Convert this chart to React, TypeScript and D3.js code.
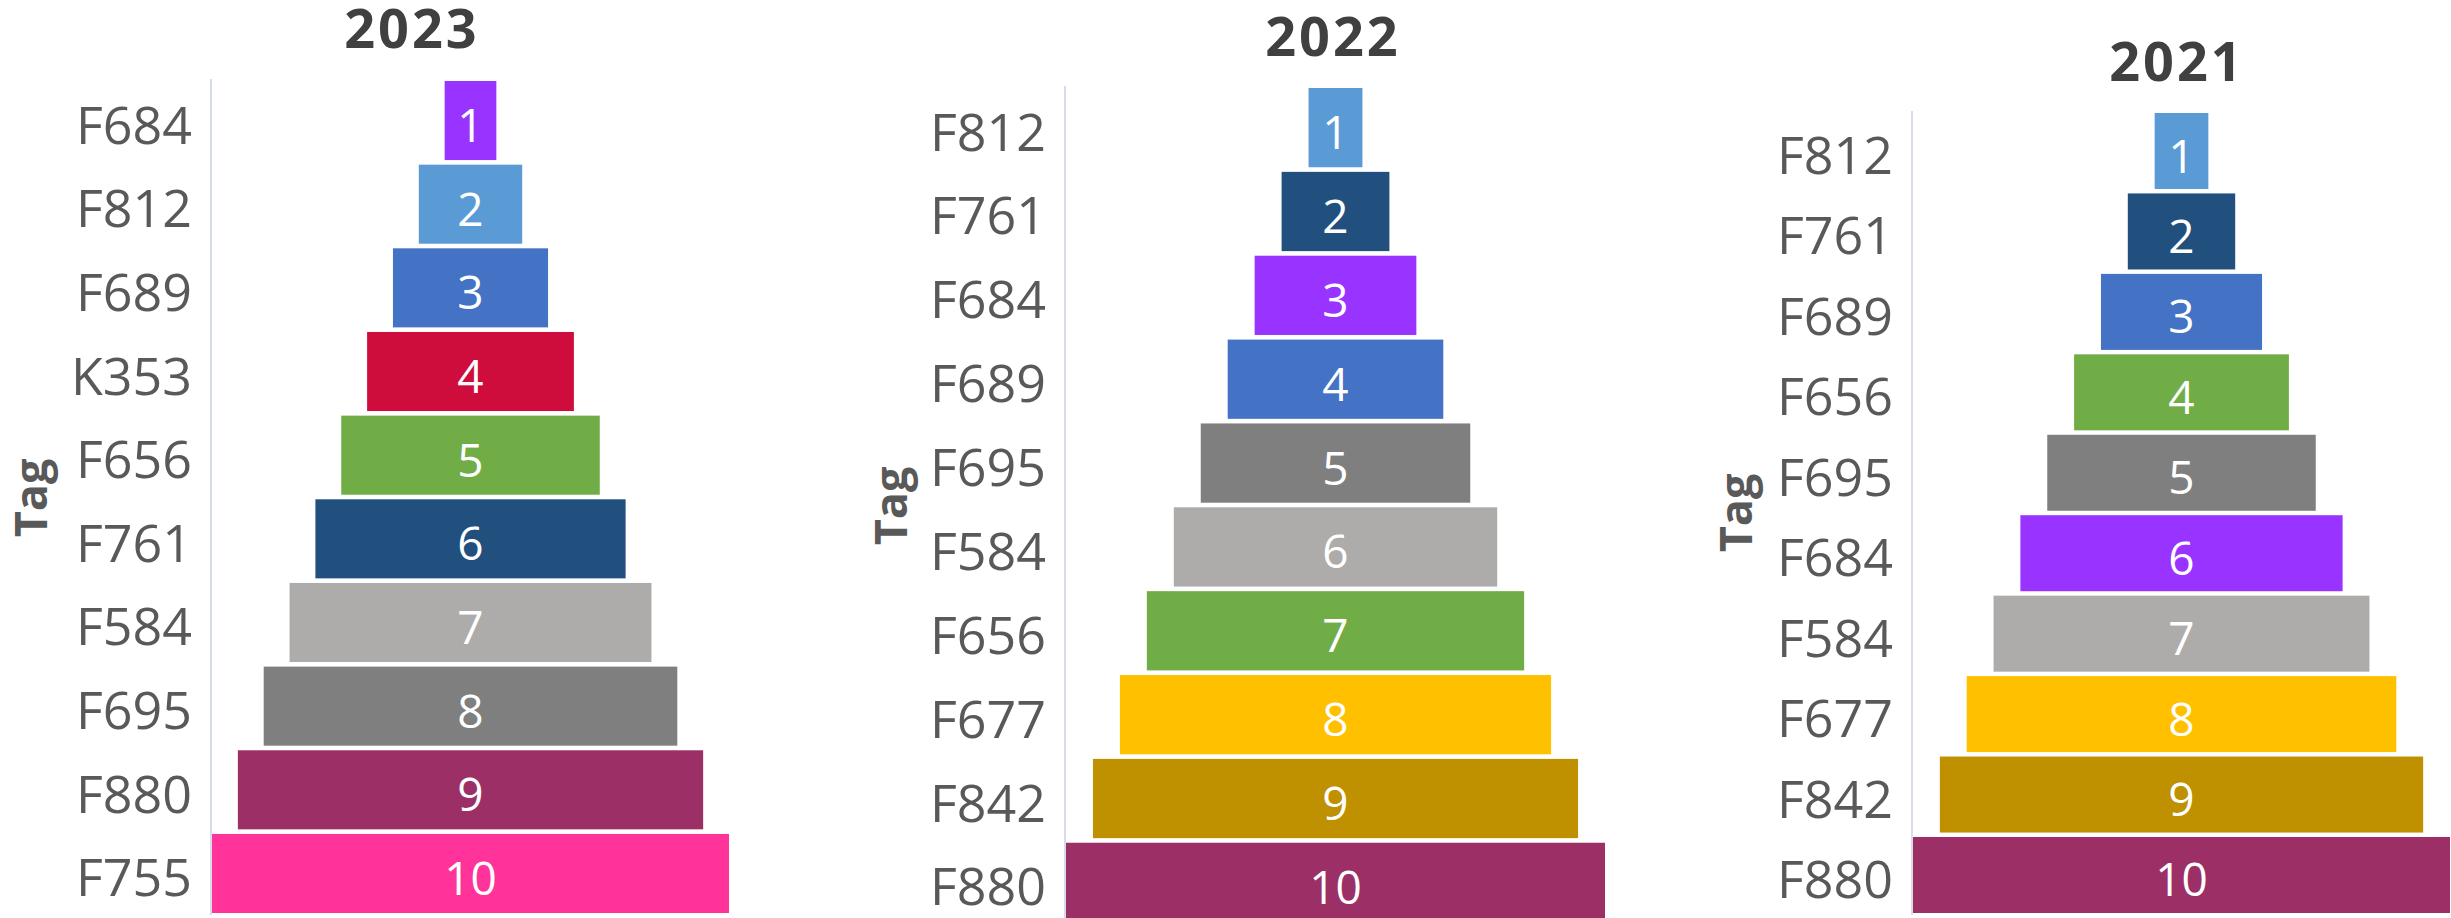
import React from 'react';
import * as d3 from 'd3';

// data, top to bottom per year
const years = ['2023', '2022', '2021'];
const tags2023 = ['F684', 'F812', 'F689', 'K353', 'F656', 'F761', 'F584', 'F695', 'F880', 'F755'];
const tags2022 = ['F812', 'F761', 'F684', 'F689', 'F695', 'F584', 'F656', 'F677', 'F842', 'F880'];
const tags2021 = ['F812', 'F761', 'F689', 'F656', 'F695', 'F684', 'F584', 'F677', 'F842', 'F880'];
const ranks2023 = [1, 2, 3, 4, 5, 6, 7, 8, 9, 10];
const ranks2022 = [1, 2, 3, 4, 5, 6, 7, 8, 9, 10];
const ranks2021 = [1, 2, 3, 4, 5, 6, 7, 8, 9, 10];

const tagColors: Record<string, string> = {
  F684: '#9933ff',
  F812: '#5b9bd5',
  F689: '#4472c4',
  K353: '#cf0d3d',
  F656: '#70ad47',
  F761: '#214f7e',
  F584: '#aeabab',
  F695: '#7f7f7f',
  F880: '#9c2f66',
  F755: '#ff3399',
  F677: '#ffc000',
  F842: '#bf9000',
};

interface Row { tag: string; value: number }

// where each small funnel sits on the page
const layouts = [
  { axisX: 211, axisTop: 79, axisBottom: 915, barTop: 81, barBottom: 913, maxW: 517, titleX: 412, titleY: 48, tagX: 47, tagY: 498 },
  { axisX: 1065, axisTop: 86, axisBottom: 918, barTop: 88, barBottom: 922, maxW: 539, titleX: 1333, titleY: 56, tagX: 907, tagY: 506 },
  { axisX: 1912, axisTop: 111, axisBottom: 915, barTop: 113, barBottom: 913, maxW: 537, titleX: 2177, titleY: 81, tagX: 1752, tagY: 513 },
];

const textColor = '#595959';
const font = '"Open Sans", "Noto Sans", sans-serif';

const Funnel: React.FC<{ title: string; rows: Row[]; layout: typeof layouts[0] }> = ({ title, rows, layout }) => {
  const y = d3.scaleBand()
    .domain(rows.map((d) => d.tag))
    .range([layout.barTop, layout.barBottom])
    .paddingInner(0.055)
    .paddingOuter(0);

  const w = d3.scaleLinear()
    .domain([0, d3.max(rows, (d) => d.value) || 0])
    .range([0, layout.maxW]);

  const cx = layout.axisX + 1 + layout.maxW / 2;

  return (
    <g>
      <text x={layout.titleX} y={layout.titleY} textAnchor="middle" fontFamily={font}
        fontWeight={700} fontSize={54} letterSpacing={3} fill="#404040">{title}</text>
      <text transform={`translate(${layout.tagX},${layout.tagY}) rotate(-90)`} textAnchor="middle"
        fontFamily={font} fontWeight={700} fontSize={45} fill={textColor}>Tag</text>
      <line x1={layout.axisX} x2={layout.axisX} y1={layout.axisTop} y2={layout.axisBottom}
        stroke="#c9d1e2" strokeWidth={1.5} />
      {rows.map((d) => {
        const bw = w(d.value);
        const by = y(d.tag) || 0;
        const mid = by + y.bandwidth() / 2;
        return (
          <g key={d.tag}>
            <rect x={cx - bw / 2} y={by} width={bw} height={y.bandwidth()} fill={tagColors[d.tag]} />
            <text x={cx} y={mid + 21.5} textAnchor="middle" fontFamily={font} fontSize={46} fill="#ffffff">{d.value}</text>
            <text x={layout.axisX - 19} y={mid + 23} textAnchor="end" fontFamily={font} fontSize={52} fill={textColor}>{d.tag}</text>
          </g>
        );
      })}
    </g>
  );
};

const App: React.FC = () => {
  const tagLists = [tags2023, tags2022, tags2021];
  const rankLists = [ranks2023, ranks2022, ranks2021];
  return (
    <svg width={2451} height={918} style={{ position: 'absolute', left: 0, top: 0, background: '#ffffff' }}>
      {years.map((yr, i) => (
        <Funnel key={yr} title={yr} layout={layouts[i]}
          rows={tagLists[i].map((t, j) => ({ tag: t, value: rankLists[i][j] }))} />
      ))}
    </svg>
  );
};

export default App;
